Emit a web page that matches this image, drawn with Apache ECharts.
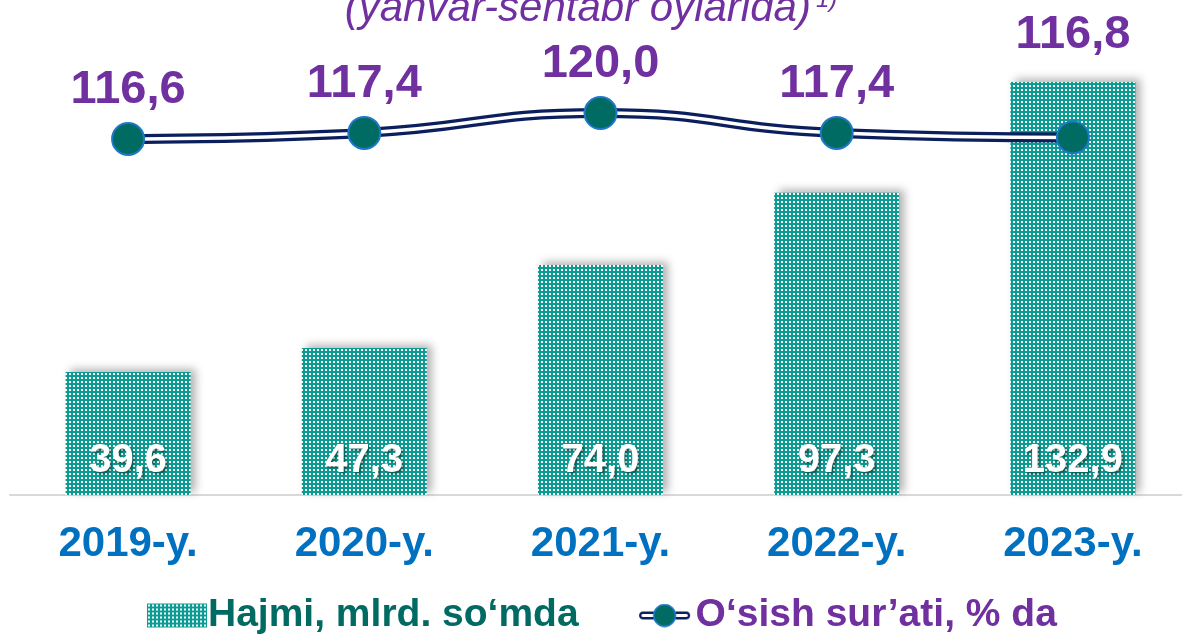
<!DOCTYPE html>
<html lang="uz">
  <head>
    <meta charset="UTF-8" />
    <title>Hajmi va o'sish sur'ati</title>
    <script src="https://cdn.jsdelivr.net/npm/echarts@6/dist/echarts.min.js"></script>
    <style>
      * {
        margin: 0;
        padding: 0;
      }
      html,
      body {
        background: #fff;
      }
    </style>
  </head>
  <body>
    <div id="charts" style="width: 1182px; height: 637px"></div>
    <script>
      // data
      var years = ["2019-y.", "2020-y.", "2021-y.", "2022-y.", "2023-y."];
      var volume = [39.6, 47.3, 74.0, 97.3, 132.9];
      var growth = [116.6, 117.4, 120.0, 117.4, 116.8];

      var fmt = function (v) {
        return v.toFixed(1).replace(".", ",");
      };

      var navy = "#0b1f5e";
      var purple = "#7030a0";
      var markFill = "#006b63";
      var markBorder = "#1f78c8";

      // dotted teal fill like the excel pattern
      var cv = document.createElement("canvas");
      cv.width = 4;
      cv.height = 4;
      var ctx = cv.getContext("2d");
      ctx.fillStyle = "#0a9c93";
      ctx.fillRect(0, 0, 4, 4);
      ctx.fillStyle = "#ffffff";
      ctx.fillRect(1, 1, 2, 2);
      var dots = { image: cv, repeat: "repeat" };

      // legend icon: double line with a dot
      var ic = document.createElement("canvas");
      ic.width = 66;
      ic.height = 30;
      var g = ic.getContext("2d");
      g.fillStyle = navy;
      g.beginPath();
      g.roundRect(1, 10, 64, 10, 5);
      g.fill();
      g.fillStyle = "#fff";
      g.beginPath();
      g.roundRect(4, 13, 58, 4, 2);
      g.fill();
      g.beginPath();
      g.arc(33, 15, 13.5, 0, Math.PI * 2);
      g.fillStyle = markFill;
      g.fill();
      g.lineWidth = 2;
      g.strokeStyle = markBorder;
      g.stroke();
      var lineIcon = "image://" + ic.toDataURL();

      var myEcharts = echarts.init(document.getElementById("charts"));
      var options = {
        animation: false,
        title: {
          text: "{a|(yanvar-sentabr oylarida)} {b|1)}",
          left: "center",
          top: -17,
          textStyle: {
            rich: {
              a: {
                fontFamily: "Liberation Sans",
                fontStyle: "italic",
                fontWeight: "normal",
                fontSize: 42,
                color: purple,
              },
              b: {
                fontFamily: "Liberation Sans",
                fontStyle: "italic",
                fontWeight: "normal",
                fontSize: 24,
                color: purple,
                verticalAlign: "top",
              },
            },
          },
        },
        legend: {
          bottom: -3,
          left: 142,
          itemGap: 56,
          itemWidth: 60,
          itemHeight: 24,
          textStyle: {
            fontFamily: "Liberation Sans",
            fontWeight: "bold",
            fontSize: 39,
            padding: [0, 0, 0, -4],
          },
          data: [
            {
              name: "Hajmi, mlrd. so‘mda",
              icon: "rect",
              textStyle: { color: "#006a63" },
            },
            {
              name: "O‘sish sur’ati, % da",
              icon: lineIcon,
              itemWidth: 66,
              itemHeight: 30,
              textStyle: { color: purple },
            },
          ],
        },
        grid: {
          left: 10,
          right: -9,
          top: 29,
          bottom: 142,
          outerBoundsMode: "none",
        },
        xAxis: {
          type: "category",
          data: years,
          axisTick: { show: false },
          axisLine: { lineStyle: { color: "#d9d9d9", width: 2 } },
          axisLabel: {
            margin: 28,
            color: "#0070c0",
            fontFamily: "Liberation Sans",
            fontWeight: "bold",
            fontSize: 42,
          },
        },
        yAxis: [
          { type: "value", min: 0, max: 150, show: false },
          { type: "value", min: 70, max: 131, show: false },
        ],
        series: [
          {
            name: "Hajmi, mlrd. so‘mda",
            type: "bar",
            data: volume,
            barWidth: 125,
            itemStyle: {
              color: dots,
              shadowColor: "rgba(0,0,0,0.3)",
              shadowBlur: 8,
              shadowOffsetX: 5,
              shadowOffsetY: -3,
            },
            label: {
              show: true,
              position: "insideBottom",
              distance: 14,
              formatter: function (p) {
                return fmt(p.value);
              },
              color: "#fff",
              fontFamily: "Liberation Sans",
              fontWeight: "bold",
              fontSize: 40,
              textShadowColor: "rgba(0,0,0,0.45)",
              textShadowBlur: 3,
              textShadowOffsetX: 2,
              textShadowOffsetY: 2,
            },
          },
          {
            name: "O‘sish sur’ati, % da",
            type: "line",
            yAxisIndex: 1,
            data: growth,
            smooth: true,
            z: 3,
            showSymbol: false,
            symbol: "circle",
            itemStyle: { color: markFill },
            lineStyle: { color: navy, width: 10 },
          },
          {
            type: "line",
            yAxisIndex: 1,
            data: growth,
            smooth: true,
            z: 4,
            silent: true,
            showSymbol: false,
            symbol: "none",
            lineStyle: { color: "#fff", width: 3.5 },
          },
          {
            type: "scatter",
            yAxisIndex: 1,
            data: growth.map(function (v, i) {
              // last label sits higher, above the bar
              return i === 4 ? { value: v, label: { distance: 62 } } : v;
            }),
            z: 5,
            symbol: "circle",
            symbolSize: 32,
            itemStyle: {
              color: markFill,
              borderColor: markBorder,
              borderWidth: 2,
              opacity: 1,
            },
            label: {
              show: true,
              position: "top",
              distance: 8,
              formatter: function (p) {
                return fmt(p.value);
              },
              color: purple,
              fontFamily: "Liberation Sans",
              fontWeight: "bold",
              fontSize: 47,
            },
          },
        ],
      };
      myEcharts.setOption(options);
    </script>
  </body>
</html>
